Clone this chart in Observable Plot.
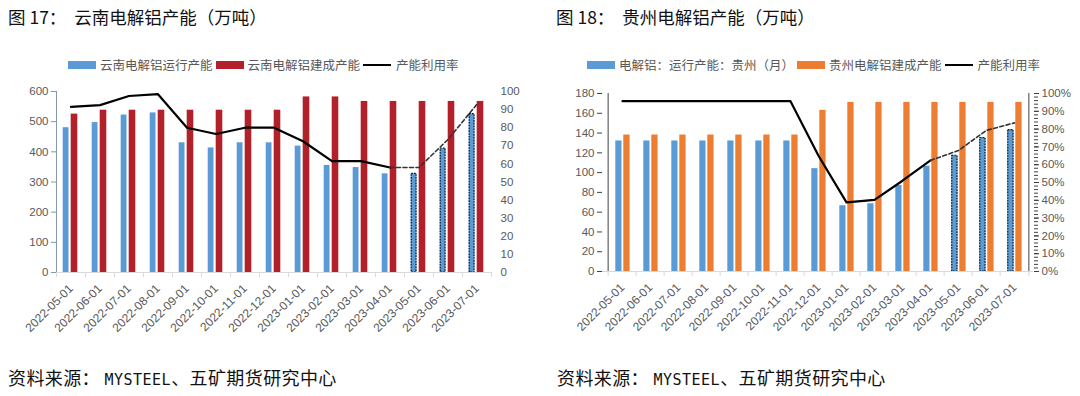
<!DOCTYPE html>
<html><head><meta charset="utf-8">
<script src="https://cdn.jsdelivr.net/npm/d3@7"></script>
<script src="https://cdn.jsdelivr.net/npm/@observablehq/plot@0.6"></script>
<style>
body{margin:0;background:#fff;font-family:"Noto Sans CJK SC","Noto Sans",sans-serif;}
#wrap{position:relative;width:1080px;height:396px;overflow:hidden;background:#fff;}
.title{position:absolute;top:4px;font-size:17.5px;color:#111;white-space:pre;line-height:26px;}
.legend{position:absolute;top:56px;font-size:12.5px;color:#595959;display:flex;align-items:center;white-space:nowrap;line-height:18px;}
.sw{display:inline-block;width:28px;height:8px;margin-right:4px;}
.ln{display:inline-block;width:28px;height:2px;background:#000;margin-right:5px;}
.item{display:flex;align-items:center;margin-right:3px;}
.chart{position:absolute;top:80px;}
.foot{position:absolute;top:364px;font-size:18px;color:#111;white-space:pre;line-height:26px;letter-spacing:0.4px;}
.mono{font-family:"DejaVu Sans Mono",monospace;font-size:15px;letter-spacing:0.5px;}
</style></head>
<body><div id="wrap">
<div class="title" style="left:8px">图 17：  云南电解铝产能（万吨）</div>
<div class="title" style="left:556px">图 18：  贵州电解铝产能（万吨）</div>
<div class="legend" style="left:68px">
  <span class="item"><span class="sw" style="background:#5b9bd5"></span>云南电解铝运行产能</span>
  <span class="item"><span class="sw" style="background:#b2202a"></span>云南电解铝建成产能</span>
  <span class="item"><span class="ln"></span>产能利用率</span>
</div>
<div class="legend" style="left:587px">
  <span class="item"><span class="sw" style="background:#5b9bd5"></span>电解铝：运行产能：贵州（月）</span>
  <span class="item"><span class="sw" style="background:#ed7d31"></span>贵州电解铝建成产能</span>
  <span class="item"><span class="ln"></span>产能利用率</span>
</div>
<div class="chart" id="c1" style="left:0px"></div>
<div class="chart" id="c2" style="left:540px"></div>
<div class="foot" style="left:8px">资料来源： <span class="mono">MYSTEEL</span>、五矿期货研究中心</div>
<div class="foot" style="left:557px">资料来源： <span class="mono">MYSTEEL</span>、五矿期货研究中心</div>
</div>
<script>
const months = ["2022-05-01","2022-06-01","2022-07-01","2022-08-01","2022-09-01","2022-10-01","2022-11-01","2022-12-01","2023-01-01","2023-02-01","2023-03-01","2023-04-01","2023-05-01","2023-06-01","2023-07-01"];
// 云南 (万吨, %)
const ynRunning = [480,497,522,529,430,413,430,430,419,355,348,327,327,411,525];
const ynBuilt   = [525,538,538,538,538,538,538,538,582,582,567,567,567,567,567];
const ynRate    = [91.5,92.5,97.5,98.5,80,76.5,80,80,72.5,61.5,61.5,58,58,73.5,93];
// 贵州 (万吨, %)
const gzRunning = [132,132,132,132,132,132,132,104,66.5,68.5,87,106.5,117,135,143];
const gzBuilt   = [138,138,138,138,138,138,138,163,171,171,171,171,171,171,171];
const gzRate    = [95.7,95.7,95.7,95.7,95.7,95.7,95.7,65,38.8,40.2,51,62.4,68,79.3,83.5];
const forecastStart = "2023-05-01";
const lastActual = "2023-04-01";

const ynLeftTicks = d3.range(0, 601, 100);
const ynRightTicks = d3.range(0, 101, 10);
const gzLeftTicks = d3.range(0, 181, 20);
const gzRightTicks = d3.range(0, 101, 10);
const gzRightMinor = d3.range(0, 101, 2);

function makeChart(o) {
  const W = 540, H = 270;
  const iF = months.indexOf(forecastStart), iL = months.indexOf(lastActual);
  const rows = months.map((m, i) => ({m, i, run: o.running[i], built: o.built[i], rate: o.rate[i]}));
  const k = o.yMax / 100;
  const bw = (W - o.mL - o.mR) / months.length;
  const font = "'Liberation Sans', Arial, sans-serif";
  const marks = [
    Plot.barY(rows, {x: "m", y: "run", fill: "#5b9bd5", insetLeft: o.b1[0], insetRight: o.b1[1]}),
    Plot.barY(rows.filter(d => d.i >= iF), {x: "m", y: "run", fill: "#5b9bd5", stroke: "#111", strokeWidth: 1.1, strokeDasharray: "1.6,1.2", insetLeft: o.b1[0] + 0.5, insetRight: o.b1[1] + 0.5}),
    Plot.barY(rows, {x: "m", y: "built", fill: o.c2, insetLeft: o.b2[0], insetRight: o.b2[1]}),
    Plot.ruleY([0], {stroke: "#d9d9d9"}),
    Plot.ruleX(months, {x: d => d, dx: -bw / 2, y1: 0, y2: 0, insetBottom: -5, stroke: "#d9d9d9"}),
    Plot.ruleX([months[months.length - 1]], {x: d => d, dx: bw / 2, y1: 0, y2: 0, insetBottom: -5, stroke: "#d9d9d9"}),
    Plot.lineY(rows.filter(d => d.i <= iL), {x: "m", y: d => d.rate * k, stroke: "#000", strokeWidth: 2.2}),
    Plot.lineY(rows.filter(d => d.i >= iL), {x: "m", y: d => d.rate * k, stroke: "#333", strokeWidth: 1.6, strokeDasharray: "4,2.5"}),
    Plot.ruleX([months[0]], {x: d => d, dx: -bw / 2, stroke: o.leftAxis}),
    Plot.axisX({tickRotate: -45, tickSize: 0, tickPadding: 14, fontSize: 12, fill: "#595959", label: null, fontFamily: font}),
    Plot.axisY({anchor: "left", ticks: o.leftTicks, tickSize: 5, tickPadding: 3, stroke: o.leftAxis, fill: "#595959", fontSize: 11.5, label: null, fontFamily: font})
  ];
  if (o.rightLine) {
    marks.push(Plot.ruleX([months[months.length - 1]], {x: d => d, dx: bw / 2, stroke: o.rightLine}));
    marks.push(Plot.axisY({anchor: "right", ticks: o.rightMinor.map(v => v * k), tickSize: 4, stroke: o.rightLine, text: null, label: null}));
    marks.push(Plot.axisY({anchor: "right", ticks: o.rightTicks.map(v => v * k), tickSize: 5, tickPadding: 3, stroke: o.rightLine, fill: "#595959", fontSize: 11.5, label: null, fontFamily: font, tickFormat: v => Math.round(v / k) + o.suffix}));
  } else {
    marks.push(Plot.axisY({anchor: "right", ticks: o.rightTicks.map(v => v * k), tickSize: 0, tickPadding: 9, fill: "#595959", fontSize: 11.5, label: null, fontFamily: font, tickFormat: v => Math.round(v / k) + o.suffix}));
  }
  return Plot.plot({
    width: W, height: H,
    marginLeft: o.mL, marginRight: o.mR, marginTop: o.mT, marginBottom: o.mB,
    style: {background: "transparent", color: "#595959", fontFamily: font},
    x: {type: "band", domain: months, padding: 0, label: null},
    y: {domain: [0, o.yMax], label: null},
    marks
  });
}

document.getElementById("c1").append(makeChart({
  running: ynRunning, built: ynBuilt, rate: ynRate, yMax: 600, c2: "#b2202a",
  leftTicks: ynLeftTicks, rightTicks: ynRightTicks, suffix: "",
  mL: 56, mR: 49, mT: 11, mB: 78, b1: [6.7, 16.5], b2: [14.7, 7.7],
  leftAxis: "#8496b0", rightLine: null
}));
document.getElementById("c2").append(makeChart({
  running: gzRunning, built: gzBuilt, rate: gzRate, yMax: 180, c2: "#ed7d31",
  leftTicks: gzLeftTicks, rightTicks: gzRightTicks, rightMinor: gzRightMinor, suffix: "%",
  mL: 62, mR: 47, mT: 13, mB: 79, b1: [7.3, 14.5], b2: [15.3, 6.4],
  leftAxis: "#404040", rightLine: "#404040"
}));
</script>
</body></html>
